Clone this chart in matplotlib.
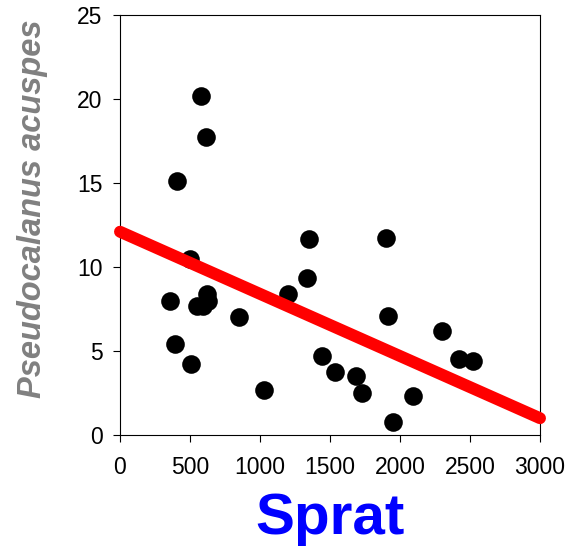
import matplotlib
matplotlib.use("Agg")
import matplotlib.pyplot as plt

sprat = [576, 614, 407, 1352, 1900, 500, 1333, 1200, 357, 624, 548, 590, 630,
         852, 1914, 2300, 395, 510, 1445, 2421, 2521, 1536, 1686, 1731, 1029,
         2093, 1952]
acuspes = [20.2, 17.75, 15.1, 11.65, 11.75, 10.5, 9.35, 8.4, 8.0, 8.4, 7.7,
           7.65, 7.95, 7.05, 7.1, 6.2, 5.4, 4.25, 4.7, 4.55, 4.4, 3.75, 3.5,
           2.5, 2.7, 2.3, 0.75]
fit_x = [0, 3000]
fit_y = [12.1, 1.0]

plt.rcParams['font.family'] = ['Liberation Sans', 'DejaVu Sans']

fig = plt.figure(figsize=(5.71, 5.47), dpi=100)
ax = fig.add_axes([120/571, 112/547, 420/571, 420/547])

ax.scatter(sprat, acuspes, s=180, color='black', zorder=2, linewidths=0)
ax.plot(fit_x, fit_y, color='red', linewidth=8.6, solid_capstyle='round',
        zorder=3, clip_on=False)

ax.set_xlim(0, 3000)
ax.set_ylim(0, 25)
ax.set_xticks(range(0, 3001, 500))
ax.set_yticks(range(0, 26, 5))
ax.tick_params(direction='out', length=5, width=0.8, labelsize=16.5)
ax.tick_params(axis='x', pad=10)
ax.tick_params(axis='y', pad=7.5)
for s in ax.spines.values():
    s.set_linewidth(0.8)

ax.set_xlabel('Sprat', color='blue', fontsize=42, fontweight='bold')
ax.xaxis.set_label_coords(0.5, -0.135)
ax.set_ylabel('Pseudocalanus acuspes', color='#808080', fontsize=23.5,
              fontweight='bold', fontstyle='italic')
ax.yaxis.set_label_coords(-0.172, 0.538)

fig.savefig('out.png', dpi=100)
